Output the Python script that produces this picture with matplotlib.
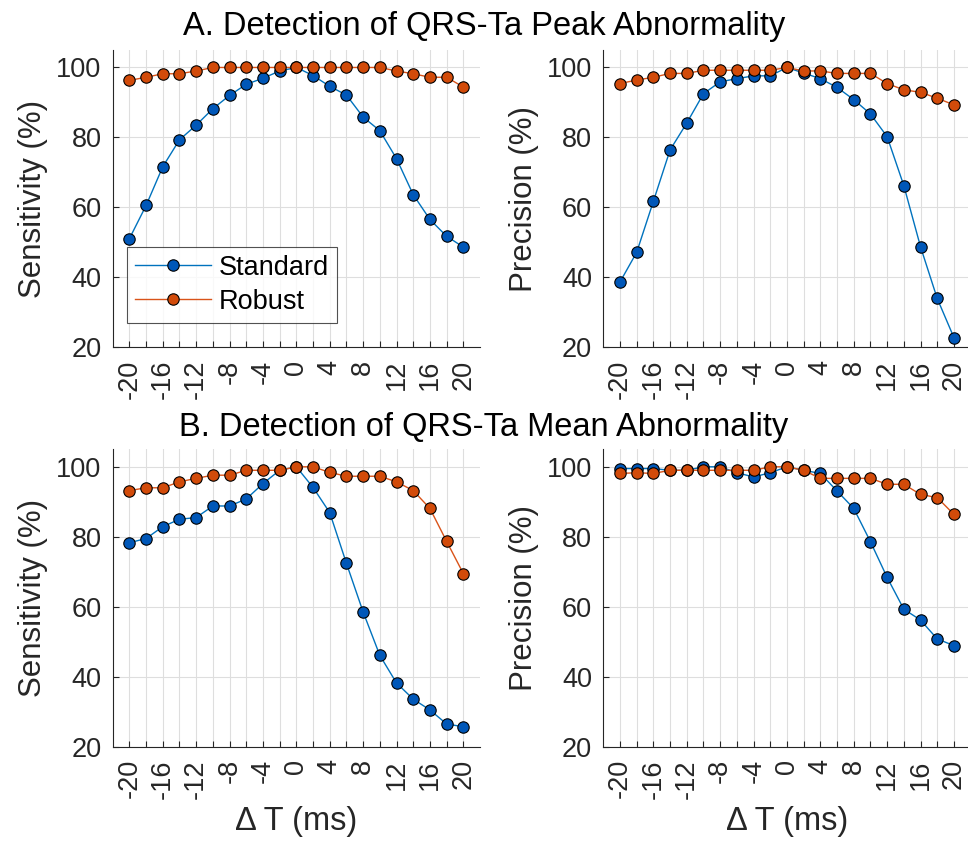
import matplotlib
matplotlib.use("Agg")
import matplotlib.pyplot as plt
import numpy as np

plt.rcParams['font.family'] = ['Liberation Sans', 'DejaVu Sans']

delta_t = [-20, -18, -16, -14, -12, -10, -8, -6, -4, -2, 0, 2, 4, 6, 8, 10, 12, 14, 16, 18, 20]

peak_sens_standard = [51, 60.5, 71.6, 79.3, 83.5, 88.2, 92, 95.2, 96.9, 99, 100, 97.7, 94.6, 92.1, 85.8, 81.9, 73.9, 63.6, 56.5, 51.7, 48.6]
peak_sens_robust = [96.3, 97.2, 98.2, 98.2, 99, 100, 100, 100, 100, 100, 100, 100, 100, 100, 100, 100, 99, 98.2, 97.2, 97.2, 94.4]
peak_prec_standard = [38.6, 47.1, 61.7, 76.4, 84.1, 92.5, 95.9, 96.8, 97.6, 97.6, 100, 98.4, 96.8, 94.3, 90.8, 86.7, 80.2, 66.2, 48.7, 33.9, 22.7]
peak_prec_robust = [95.4, 96.4, 97.2, 98.3, 98.3, 99.2, 99.2, 99.2, 99.2, 99.2, 100, 99, 99, 98.3, 98.3, 98.3, 95.4, 93.6, 92.9, 91.2, 89.3]

mean_sens_standard = [78.3, 79.5, 82.9, 85, 85.5, 88.8, 88.8, 90.8, 95.2, 99, 100, 94.1, 86.9, 72.4, 58.5, 46.1, 38.2, 33.6, 30.5, 26.5, 25.7]
mean_sens_robust = [93.2, 94, 94, 95.7, 96.7, 97.6, 97.6, 99, 99, 99, 100, 100, 98.4, 97.3, 97.3, 97.3, 95.7, 93.2, 88.1, 78.7, 69.5]
mean_prec_standard = [99.5, 99.5, 99.5, 99, 99, 100, 100, 98.3, 97.1, 98.3, 100, 99, 98.1, 93.1, 88.1, 78.6, 68.4, 59.3, 56.2, 50.8, 48.9]
mean_prec_robust = [98.1, 98.3, 98.1, 99, 99, 99, 99, 99, 99, 100, 100, 99, 96.7, 96.7, 96.7, 96.7, 95, 95, 92.1, 91.2, 86.4]

series_names = ["Standard", "Robust"]
row_titles = ["A. Detection of QRS-Ta Peak Abnormality", "B. Detection of QRS-Ta Mean Abnormality"]
y_labels = ["Sensitivity (%)", "Precision (%)"]
x_label = "\u0394 T (ms)"
y_ticks = [20, 40, 60, 80, 100]

line_colors = ["#0072BD", "#D95319"]
face_colors = ["#0057B8", "#D24B0A"]

W, H = 968, 847
fig = plt.figure(figsize=(W / 100, H / 100), dpi=100)

def ax_rect(x0, y0, x1, y1):
    return [x0 / W, 1 - y1 / H, (x1 - x0) / W, (y1 - y0) / H]

rects = [
    ax_rect(112.7, 50, 480, 347),
    ax_rect(603.3, 50, 970.6, 347),
    ax_rect(112.7, 449.3, 480, 746.7),
    ax_rect(603.3, 449.3, 970.6, 746.7),
]
data = [
    (peak_sens_standard, peak_sens_robust),
    (peak_prec_standard, peak_prec_robust),
    (mean_sens_standard, mean_sens_robust),
    (mean_prec_standard, mean_prec_robust),
]

TICK_FS = 19.5
LABEL_FS = 22.5
TITLE_FS = 23.5

for i, (rect, (std, rob)) in enumerate(zip(rects, data)):
    ax = fig.add_axes(rect)
    for vals, name, lc, fc in zip((std, rob), series_names, line_colors, face_colors):
        ax.plot(delta_t, vals, '-o', color=lc, lw=1.0, markersize=8.2,
                markerfacecolor=fc, markeredgecolor='black', markeredgewidth=0.8,
                label=name, clip_on=False, zorder=3)
    ax.set_xlim(-22, 22)
    ax.set_ylim(20, 105)
    ax.set_xticks(delta_t)
    ax.set_xticklabels([str(v) if v % 4 == 0 else "" for v in delta_t],
                       rotation=90, fontsize=TICK_FS)
    ax.set_yticks(y_ticks)
    ax.set_yticklabels([str(v) for v in y_ticks], fontsize=TICK_FS)
    ax.tick_params(direction='in', length=4, width=0.8, color='#262626',
                   labelcolor='#262626')
    ax.tick_params(axis='x', pad=9)
    ax.tick_params(axis='y', pad=8)
    ax.grid(True, color='#DEDEDE', lw=0.8)
    ax.set_axisbelow(True)
    for s in ['top', 'right']:
        ax.spines[s].set_visible(False)
    for s in ['left', 'bottom']:
        ax.spines[s].set_color('#262626')
        ax.spines[s].set_linewidth(0.8)
    ax.set_ylabel(y_labels[i % 2], fontsize=LABEL_FS, color='#262626', labelpad=6)
    if i >= 2:
        ax.set_xlabel(x_label, fontsize=LABEL_FS + 1, color='#262626', labelpad=5)
    if i == 0:
        leg = ax.legend(loc='lower left', bbox_to_anchor=(0.038, 0.081), fontsize=TICK_FS,
                        frameon=True, fancybox=False, edgecolor='#262626',
                        handlelength=2.8, borderpad=0.3, labelspacing=0.3,
                        handletextpad=0.3, borderaxespad=0)
        leg.get_frame().set_linewidth(0.8)

fig.text(484 / W, 1 - 35 / H, row_titles[0], ha='center', va='baseline', fontsize=TITLE_FS, color='black')
fig.text(484 / W, 1 - 436 / H, row_titles[1], ha='center', va='baseline', fontsize=TITLE_FS, color='black')

fig.savefig("out.png", dpi=100)
